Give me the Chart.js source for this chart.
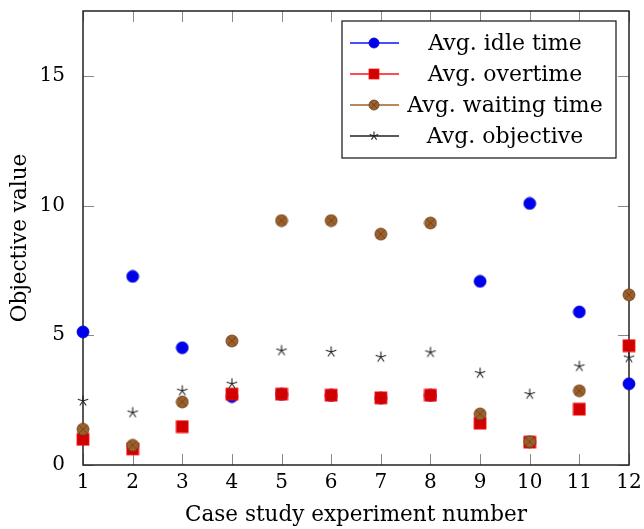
<!DOCTYPE html>
<html lang="en">
<head>
<meta charset="UTF-8" />
<title>Objective values per experiment</title>
<script src="https://cdn.jsdelivr.net/npm/chart.js"></script>
<style>
  body { margin: 0; background: #fff; }
  #wrap { width: 644px; height: 529px; }
</style>
</head>
<body>
<div id="wrap"><canvas id="myChart"></canvas></div>
<script>
// case study experiments on the x axis
const experiments = [1, 2, 3, 4, 5, 6, 7, 8, 9, 10, 11, 12];

// values
const idleTime    = [5.13, 7.27, 4.52, 2.64, 2.72, 2.68, 2.58, 2.68, 7.08, 10.08, 5.90, 3.13];
const overtime    = [0.99, 0.62, 1.48, 2.73, 2.73, 2.69, 2.59, 2.69, 1.61, 0.88, 2.15, 4.60];
const waitingTime = [1.38, 0.76, 2.43, 4.78, 9.42, 9.42, 8.90, 9.33, 1.97, 0.90, 2.86, 6.56];
const objective   = [2.47, 2.02, 2.86, 3.13, 4.41, 4.36, 4.16, 4.34, 3.54, 2.73, 3.80, 4.14];

const seriesNames = ["Avg. idle time", "Avg. overtime", "Avg. waiting time", "Avg. objective"];

// y ticks every 5/3, labels only on multiples of 5
const yTicks = [0, 5/3, 10/3, 5, 20/3, 25/3, 10, 35/3, 40/3, 15, 50/3];

const FONT = "'DejaVu Serif', 'Liberation Serif', serif";

// small canvases used as point styles (pgfplots-like marks)
function makeMark(size, r, draw) {
  const c = document.createElement("canvas");
  c.width = size; c.height = size;
  draw(c.getContext("2d"), size / 2, r);
  return c;
}

function idleMark(g, m, r) {
  g.beginPath(); g.arc(m, m, r, 0, Math.PI * 2);
  g.fillStyle = "#0000f0"; g.fill();
  g.strokeStyle = "#0000c8"; g.lineWidth = 0.8; g.stroke();
}
function overMark(g, m, r) {
  g.fillStyle = "#d00000"; g.fillRect(m - r, m - r, 2 * r, 2 * r);
  g.strokeStyle = "#ff1010"; g.lineWidth = 0.8; g.strokeRect(m - r, m - r, 2 * r, 2 * r);
}
function waitMark(g, m, r) {
  g.beginPath(); g.arc(m, m, r, 0, Math.PI * 2);
  g.fillStyle = "#9b602c"; g.fill();
  g.strokeStyle = "#6b4019"; g.lineWidth = 0.8; g.stroke();
  const d = r * Math.SQRT1_2;
  g.beginPath();
  g.moveTo(m - d, m - d); g.lineTo(m + d, m + d);
  g.moveTo(m - d, m + d); g.lineTo(m + d, m - d);
  g.stroke();
}
function objMark(g, m, r) {
  g.strokeStyle = "#222"; g.lineWidth = 1.1;
  g.beginPath();
  for (let k = 0; k < 5; k++) {
    const a = -Math.PI / 2 + k * 2 * Math.PI / 5;
    g.moveTo(m, m);
    g.lineTo(m + (r - 0.5) * Math.cos(a), m + (r - 0.5) * Math.sin(a));
  }
  g.stroke();
}

const markDraw = [idleMark, overMark, waitMark, objMark];
const marks = markDraw.map(d => makeMark(14, 6, d));
const legendMarks = markDraw.map(d => makeMark(12, 5, d));
const lineColors = ["#1010ff", "#ff1010", "#9b602c", "#222222"];

function points(ys) {
  return experiments.map((x, i) => ({ x: x, y: ys[i] }));
}

// frame with inward ticks on all four sides
const framePlugin = {
  id: "frame",
  beforeDatasetsDraw(chart) {
    const { ctx, chartArea: a, scales } = chart;
    ctx.save();
    ctx.strokeStyle = "#888"; ctx.lineWidth = 1;
    ctx.beginPath();
    scales.x.ticks.forEach(t => {
      const px = Math.round(scales.x.getPixelForValue(t.value)) + 0.5;
      ctx.moveTo(px, a.bottom); ctx.lineTo(px, a.bottom - 11);
      ctx.moveTo(px, a.top); ctx.lineTo(px, a.top + 11);
    });
    scales.y.ticks.forEach(t => {
      const py = Math.round(scales.y.getPixelForValue(t.value)) + 0.5;
      ctx.moveTo(a.left, py); ctx.lineTo(a.left + 11, py);
      ctx.moveTo(a.right, py); ctx.lineTo(a.right - 11, py);
    });
    ctx.stroke();
    ctx.strokeStyle = "#222"; ctx.lineWidth = 1.5;
    ctx.strokeRect(a.left, a.top, a.right - a.left, a.bottom - a.top);
    ctx.restore();
  }
};

// boxed legend in the upper right corner
const legendPlugin = {
  id: "boxLegend",
  afterDraw(chart) {
    const { ctx, chartArea: a } = chart;
    const x0 = a.right - 287, y0 = a.top + 10, w = 274, h = 137;
    ctx.save();
    ctx.fillStyle = "#fff";
    ctx.fillRect(x0, y0, w, h);
    ctx.strokeStyle = "#111"; ctx.lineWidth = 1.2;
    ctx.strokeRect(x0, y0, w, h);
    ctx.font = "22px " + FONT;
    ctx.textAlign = "center"; ctx.textBaseline = "middle";
    seriesNames.forEach((name, i) => {
      const cy = y0 + 22 + i * 31;
      ctx.strokeStyle = lineColors[i]; ctx.lineWidth = 1.6;
      ctx.beginPath(); ctx.moveTo(x0 + 8, cy); ctx.lineTo(x0 + 57, cy); ctx.stroke();
      ctx.drawImage(legendMarks[i], x0 + 32 - 6, cy - 6);
      ctx.fillStyle = "#000";
      ctx.fillText(name, x0 + 163, cy + 1);
    });
    ctx.restore();
  }
};

const ctx = document.getElementById("myChart").getContext("2d");
new Chart(ctx, {
  type: "scatter",
  data: {
    datasets: [idleTime, overtime, waitingTime, objective].map((ys, i) => ({
      label: seriesNames[i],
      data: points(ys),
      pointStyle: marks[i],
      pointRadius: 6,
      showLine: false,
      order: 4 - i,
      clip: false
    }))
  },
  options: {
    responsive: true,
    maintainAspectRatio: false,
    animation: false,
    devicePixelRatio: 1,
    layout: { padding: { top: 11, right: 15, left: 0, bottom: 0 } },
    plugins: { legend: { display: false }, tooltip: { enabled: false } },
    scales: {
      x: {
        type: "linear",
        min: 1, max: 12,
        grid: { display: false },
        border: { display: false },
        ticks: { stepSize: 1, color: "#000", padding: -2, font: { family: FONT, size: 20 } },
        title: { display: true, text: "Case study experiment number", color: "#000",
                 padding: { top: 0, bottom: 1 }, font: { family: FONT, size: 21.5 } },
        afterFit(scale) {
          scale.height = 64;
          scale.paddingLeft = 0; scale.paddingRight = 0;
        }
      },
      y: {
        min: 0, max: 17.5,
        grid: { display: false },
        border: { display: false },
        afterBuildTicks(scale) { scale.ticks = yTicks.map(v => ({ value: v })); },
        ticks: {
          color: "#000", padding: 10, font: { family: FONT, size: 20 },
          callback: v => Math.abs(v / 5 - Math.round(v / 5)) < 1e-6 ? String(Math.round(v)) : null
        },
        title: { display: true, text: "Objective value", color: "#000",
                 padding: { top: 8, bottom: 0 }, font: { family: FONT, size: 21.5 } },
        afterFit(scale) {
          scale.width = 83;
          scale.paddingTop = 0; scale.paddingBottom = 0;
        }
      }
    }
  },
  plugins: [framePlugin, legendPlugin]
});
</script>
</body>
</html>
